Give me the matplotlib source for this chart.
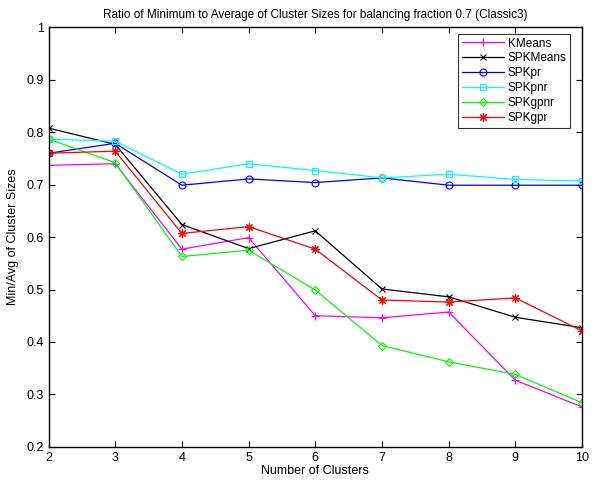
import matplotlib
matplotlib.use("Agg")
import matplotlib.pyplot as plt

plt.rcParams['font.family'] = ['Liberation Sans', 'DejaVu Sans']

clusters = [2, 3, 4, 5, 6, 7, 8, 9, 10]
kmeans   = [0.737, 0.740, 0.577, 0.599, 0.450, 0.446, 0.457, 0.327, 0.276]
spkmeans = [0.808, 0.777, 0.624, 0.578, 0.612, 0.501, 0.486, 0.447, 0.427]
spkpr    = [0.760, 0.779, 0.699, 0.711, 0.704, 0.713, 0.699, 0.699, 0.699]
spkpnr   = [0.787, 0.783, 0.720, 0.740, 0.727, 0.713, 0.720, 0.710, 0.707]
spkgpnr  = [0.787, 0.742, 0.563, 0.575, 0.499, 0.393, 0.362, 0.338, 0.284]
spkgpr   = [0.760, 0.764, 0.607, 0.620, 0.577, 0.480, 0.476, 0.484, 0.421]

series = [
    ("KMeans", kmeans, "#ff00ff", "+", 6),
    ("SPKMeans", spkmeans, "#000000", "x", 4.5),
    ("SPKpr", spkpr, "#0000ff", "o", 5),
    ("SPKpnr", spkpnr, "#00ffff", "s", 4.5),
    ("SPKgpnr", spkgpnr, "#00ff00", "D", 4.2),
    ("SPKgpr", spkgpr, "#ff0000", (8, 2, 0), 6),
]

fig = plt.figure(figsize=(5.96, 4.82), dpi=100)
ax = fig.add_axes([0.0814, 0.0732, 0.8951, 0.8698])

for name, vals, col, mk, ms in series:
    ax.plot(clusters, vals, color=col, marker=mk, markersize=ms,
            markerfacecolor='none', markeredgecolor=col, markeredgewidth=0.8,
            linewidth=0.9, label=name)

ax.set_xlim(2, 10)
ax.set_ylim(0.2, 1.0)
ax.set_xticks(clusters)
ax.set_yticks([0.2, 0.3, 0.4, 0.5, 0.6, 0.7, 0.8, 0.9, 1.0])
ax.set_yticklabels(["0.2", "0.3", "0.4", "0.5", "0.6", "0.7", "0.8", "0.9", "1"])
ax.tick_params(direction='in', top=True, right=True, labelsize=9, length=4, width=0.8)
for s in ax.spines.values():
    s.set_linewidth(1.0)

ax.set_title("Ratio of Minimum to Average of Cluster Sizes for balancing fraction 0.7 (Classic3)",
             fontsize=8.5, pad=7)
ax.set_xlabel("Number of Clusters", fontsize=9, labelpad=1)
ax.set_ylabel("Min/Avg of Cluster Sizes", fontsize=9, labelpad=5)

leg = ax.legend(loc='upper right', bbox_to_anchor=(0.9775, 0.9845), borderaxespad=0,
                fontsize=8.5, frameon=True, fancybox=False,
                edgecolor='black', handlelength=3.6,
                labelspacing=0.25, borderpad=0.3, handletextpad=0.3)
leg.get_frame().set_linewidth(0.8)

fig.savefig("out.png", dpi=100)
